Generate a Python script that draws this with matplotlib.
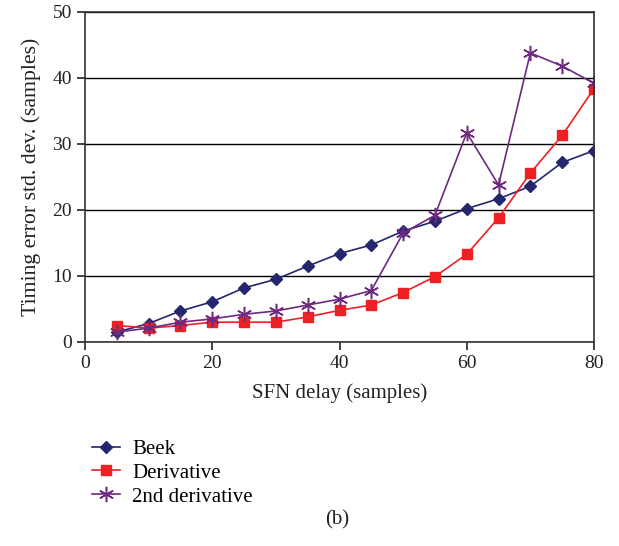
import matplotlib
matplotlib.use("Agg")
import matplotlib.pyplot as plt

plt.rcParams['font.family'] = ['Liberation Serif', 'DejaVu Serif']

# SFN delay (samples)
delay = [5, 10, 15, 20, 25, 30, 35, 40, 45, 50, 55, 60, 65, 70, 75, 80]

# timing error std. dev. (samples)
beek = [1.5, 2.8, 4.7, 6.1, 8.2, 9.5, 11.5, 13.4, 14.7, 16.8, 18.3, 20.2, 21.7, 23.6, 27.2, 29.0]
derivative = [2.5, 2.1, 2.5, 3.0, 3.0, 3.0, 3.8, 4.8, 5.6, 7.5, 9.9, 13.3, 18.8, 25.6, 31.3, 38.4]
second_derivative = [1.5, 2.1, 3.0, 3.5, 4.2, 4.7, 5.6, 6.5, 7.8, 16.5, 19.2, 31.7, 23.8, 43.8, 41.8, 39.2]

fig = plt.figure(figsize=(6.19, 5.46), dpi=100)
ax = fig.add_axes([85 / 619, 1 - 342 / 546, 509 / 619, 330 / 546])

ax.plot(delay, beek, color='#24266e', marker='D', markersize=6.5, lw=1.2, label='Beek')
ax.plot(delay, derivative, color='#ee2024', marker='s', markersize=7, lw=1.2, label='Derivative')
ax.plot(delay, second_derivative, color='#6e2a7e', marker=(6, 2, 0), markersize=11, mew=1.1, lw=1.2,
        label='2nd derivative')

ax.set_xlim(0, 80)
ax.set_ylim(0, 50)
ax.set_xticks([0, 20, 40, 60, 80])
ax.set_yticks([0, 10, 20, 30, 40, 50])
ax.yaxis.grid(True, color='black', lw=1.0)
ax.set_axisbelow(True)
for s in ax.spines.values():
    s.set_color('#333333')
    s.set_linewidth(1.2)
ax.tick_params(direction='out', length=6, width=1.2, labelsize=14, colors='#222222')

ax.set_xlabel('SFN delay (samples)', fontsize=15, color='#222222', labelpad=8)
ax.set_ylabel('Timing error std. dev. (samples)', fontsize=15.7, color='#222222', labelpad=8)

ax.legend(loc='upper left', bbox_to_anchor=(-1 / 509, -0.27), frameon=False, fontsize=15,
          handlelength=1.35, labelspacing=0.2, handletextpad=0.55, borderaxespad=0)

fig.text(337 / 619, 1 - 520 / 546, '(b)', ha='center', va='center', fontsize=15, color='#222222')

fig.savefig('out.png', dpi=100)
